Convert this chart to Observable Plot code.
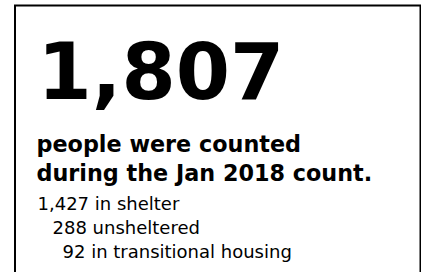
<!DOCTYPE html>
<html>
<head>
<meta charset="utf-8">
<script src="https://cdn.jsdelivr.net/npm/d3@7"></script>
<script src="https://cdn.jsdelivr.net/npm/@observablehq/plot@0.6"></script>
<style>
  html, body { margin: 0; padding: 0; background: white; }
  #chart svg { display: block; }
</style>
</head>
<body>
<div id="chart"></div>
<script>
const totalCount = 1807;
const headlineLines = ["people were counted", "during the Jan 2018 count."];
const breakdownValues = [1427, 288, 92];
const breakdownLabels = ["in shelter", "unsheltered", "in transitional housing"];

const fmt = d3.format(",");
const font = "'DejaVu Sans', sans-serif";

const big = [{t: fmt(totalCount)}];
const heads = headlineLines.map((t, i) => ({t, i}));
const rows = breakdownValues.map((v, i) => ({t: `${fmt(v)} ${breakdownLabels[i]}`, i}));
const indents = [0, 15, 25];

const marks = [
  Plot.frame({stroke: "black", strokeWidth: 2, insetLeft: 14.5, insetTop: 5, insetRight: 1, insetBottom: -20}),
  Plot.text(big, {text: "t", frameAnchor: "top-left", textAnchor: "start", lineAnchor: "bottom",
    dx: 37, dy: 98, fontSize: 78, fontWeight: "bold", fontFamily: font, fill: "black", letterSpacing: "-1px"}),
  ...heads.map(h => Plot.text([h], {text: "t", frameAnchor: "top-left", textAnchor: "start", lineAnchor: "bottom",
    dx: 36, dy: 151 + h.i * 29, fontSize: 22.3, fontWeight: "bold", fontFamily: font, fill: "black"})),
  ...rows.map(r => Plot.text([r], {text: "t", frameAnchor: "top-left", textAnchor: "start", lineAnchor: "bottom",
    dx: 37 + indents[r.i], dy: 209 + r.i * 24, fontSize: 18, fontFamily: font, fill: "black"}))
];

const chart = Plot.plot({
  width: 421, height: 272,
  margin: 0,
  x: {axis: null}, y: {axis: null},
  marks
});
document.getElementById("chart").append(chart);
</script>
</body>
</html>
